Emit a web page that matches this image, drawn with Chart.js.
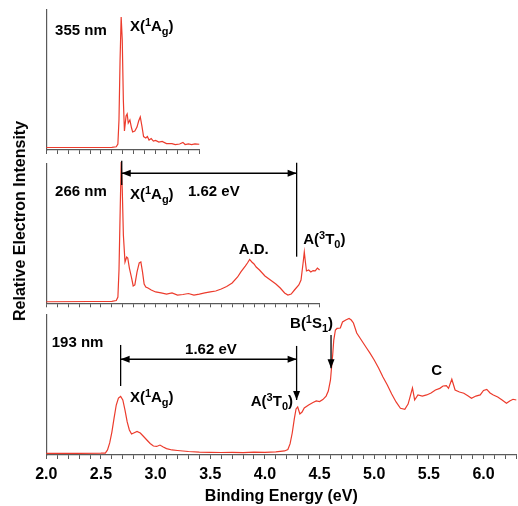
<!DOCTYPE html>
<html>
<head>
<meta charset="utf-8">
<script src="https://cdn.jsdelivr.net/npm/chart.js@4.4.1/dist/chart.umd.min.js"></script>
<style>
  body { margin: 0; background: #fff; }
  #wrap { position: relative; width: 518px; height: 506px; overflow: hidden; }
  canvas { position: absolute; left: 0; }
  #ylabel {
    position: absolute; left: 20px; top: 221px;
    transform: translate(-50%, -50%) rotate(-90deg);
    font: bold 16px "Liberation Sans", Arial, sans-serif;
    white-space: nowrap; color: #000;
  }
</style>
</head>
<body>
<div id="wrap">
  <canvas id="c355" width="518" height="158" style="top:0"></canvas>
  <canvas id="c266" width="518" height="152" style="top:158px"></canvas>
  <canvas id="c193" width="526" height="196" style="top:310px"></canvas>
  <div id="ylabel">Relative Electron Intensity</div>
</div>
<script>
// binding energy (eV) and relative intensity
const energy355 = [2.00, 2.20, 2.40, 2.60, 2.64, 2.655, 2.665, 2.675, 2.685, 2.695, 2.705, 2.715, 2.73, 2.74, 2.75,
  2.765, 2.78, 2.79, 2.81, 2.83, 2.845, 2.86, 2.875, 2.89, 2.91, 2.925, 2.94, 2.96, 2.98, 3.00, 3.03, 3.06,
  3.10, 3.15, 3.18, 3.22, 3.25, 3.27, 3.30, 3.33, 3.36, 3.40];
const signal355 = [1.8, 1.8, 1.8, 1.9, 2.3, 4.3, 21.4, 64.3, 95.0, 78.6, 35.7, 13.6, 24.3, 25.7, 19.3,
  21.4, 15.7, 12.9, 13.6, 16.4, 20.7, 23.6, 17.1, 9.6, 8.6, 9.6, 7.1, 8.2, 6.4, 6.8, 5.7, 6.1,
  4.6, 4.6, 3.9, 4.3, 5.4, 3.9, 4.3, 3.9, 4.4, 4.1];

const energy266 = [2.00, 2.40, 2.60, 2.64, 2.655, 2.665, 2.675, 2.685, 2.695, 2.705, 2.72, 2.735, 2.745, 2.76,
  2.78, 2.795, 2.81, 2.83, 2.85, 2.865, 2.88, 2.895, 2.91, 2.93, 2.96, 3.00, 3.05, 3.10, 3.15, 3.20, 3.25,
  3.30, 3.35, 3.40, 3.45, 3.50, 3.55, 3.60, 3.65, 3.70, 3.75, 3.78, 3.82, 3.84, 3.86, 3.88, 3.90, 3.92,
  3.95, 4.00, 4.05, 4.10, 4.14, 4.18, 4.21, 4.24, 4.27, 4.31, 4.33, 4.35, 4.36, 4.37, 4.38, 4.40, 4.42,
  4.44, 4.46, 4.48, 4.50];
const signal266 = [1.1, 1.3, 1.4, 2.0, 4.5, 23.8, 63.1, 101.0, 80.9, 48.8, 29.5, 33.1, 32.4, 25.2,
  18.1, 12.4, 13.1, 22.4, 28.8, 29.5, 22.4, 13.8, 11.6, 10.9, 9.5, 8.1, 7.4, 6.6, 7.4, 5.9, 6.3,
  7.0, 5.9, 6.6, 7.4, 8.1, 8.8, 10.2, 12.0, 14.5, 18.8, 22.4, 26.6, 28.8, 31.3, 29.5, 28.1, 25.9,
  23.8, 19.5, 16.6, 13.8, 10.9, 7.4, 5.9, 6.6, 9.5, 13.1, 16.6, 29.5, 36.6, 29.5, 23.1, 23.8, 22.4,
  23.4, 23.1, 25.2, 23.8];

const energy193 = [2.00, 2.30, 2.50, 2.54, 2.56, 2.58, 2.60, 2.62, 2.64, 2.66, 2.68, 2.70, 2.72, 2.74, 2.76,
  2.78, 2.80, 2.83, 2.86, 2.89, 2.92, 2.95, 2.98, 3.01, 3.04, 3.07, 3.10, 3.15, 3.20, 3.30, 3.40, 3.50,
  3.60, 3.70, 3.80, 3.90, 4.00, 4.10, 4.18, 4.21, 4.23, 4.25, 4.27, 4.285, 4.30, 4.32, 4.34, 4.36, 4.40,
  4.44, 4.47, 4.50, 4.53, 4.56, 4.58, 4.60, 4.61, 4.62, 4.63, 4.645, 4.66, 4.69, 4.71, 4.74, 4.77, 4.79,
  4.81, 4.84, 4.87, 4.90, 4.93, 4.96, 5.00, 5.04, 5.08, 5.12, 5.16, 5.20, 5.24, 5.28, 5.31, 5.33, 5.35,
  5.37, 5.40, 5.44, 5.48, 5.52, 5.56, 5.60, 5.63, 5.66, 5.68, 5.71, 5.74, 5.78, 5.82, 5.86, 5.89, 5.93,
  5.97, 6.00, 6.03, 6.06, 6.09, 6.13, 6.17, 6.21, 6.24, 6.27, 6.30];
const signal193 = [1.2, 1.2, 1.3, 1.4, 3.6, 8.6, 16.4, 26.4, 35.7, 40.7, 41.8, 39.3, 32.1, 23.6, 17.9,
  15.0, 15.7, 16.8, 15.7, 13.2, 10.7, 8.2, 6.4, 6.1, 7.1, 5.7, 4.6, 3.6, 3.2, 2.5, 2.1, 1.9,
  1.8, 1.9, 1.7, 2.0, 1.9, 2.3, 2.9, 3.9, 7.9, 15.7, 26.4, 32.9, 34.3, 29.3, 30.7, 33.6, 35.7,
  37.5, 38.6, 38.2, 39.6, 42.1, 45.7, 53.6, 62.9, 71.4, 82.1, 89.3, 90.4, 90.7, 95.0, 96.4, 97.5, 96.4,
  94.3, 87.1, 83.6, 80.0, 76.4, 72.9, 67.9, 62.1, 55.7, 50.0, 43.6, 37.9, 33.4, 32.6, 36.4, 42.1, 47.9,
  39.3, 42.9, 42.1, 42.9, 44.3, 46.4, 47.6, 49.3, 49.6, 47.6, 54.1, 46.4, 45.0, 44.1, 42.1, 40.5, 42.1,
  42.9, 46.1, 46.9, 44.3, 42.9, 41.4, 39.3, 36.9, 38.6, 39.8, 39.3];

const tickLabels = ['2.0', '2.5', '3.0', '3.5', '4.0', '4.5', '5.0', '5.5', '6.0'];

// labels and arrows, in data units
const notes355 = [
  { text: '355 nm', x: 2.08, y: 85 },
  { text: 'X(^1A_g)', x: 2.765, y: 87.9 },
];
const notes266 = [
  { text: '266 nm', x: 2.08, y: 79.7 },
  { text: 'X(^1A_g)', x: 2.765, y: 77.4 },
  { text: '1.62 eV', x: 3.296, y: 79.7 },
  { text: 'A.D.', x: 3.898, y: 38.1, align: 'center' },
  { text: 'A(^3T_0)', x: 4.35, y: 45.2 },
  { line: [2.69, 101.9, 2.69, 84.5] },
  { line: [2.69, 92.9, 4.29, 92.9], heads: 'both' },
  { line: [4.29, 100.4, 4.29, 33.3] },
];
const notes193 = [
  { text: '193 nm', x: 2.05, y: 79.8 },
  { text: '1.62 eV', x: 3.27, y: 75 },
  { text: 'X(^1A_g)', x: 2.765, y: 40.5 },
  { text: 'A(^3T_0)', x: 4.257, y: 38.1, align: 'right' },
  { text: 'B(^1S_1)', x: 4.23, y: 93.6 },
  { text: 'C', x: 5.572, y: 60, align: 'center' },
  { line: [2.68, 78.6, 2.68, 49.3] },
  { line: [2.68, 68.4, 4.29, 68.4], heads: 'both' },
  { line: [4.29, 77.9, 4.29, 39.3], heads: 'end' },
  { line: [4.605, 85.7, 4.605, 61.9], heads: 'end' },
];

const FONT = '"Liberation Sans", Arial, Helvetica, sans-serif';
const RED = '#ec3b2c';
const AXIS = '#5a5a5a';

function parseRich(str) {
  const parts = [];
  for (let i = 0; i < str.length; i++) {
    const c = str[i];
    if ((c === '^' || c === '_') && i + 1 < str.length) {
      parts.push({ t: str[i + 1], kind: c === '^' ? 'sup' : 'sub' });
      i++;
    } else {
      parts.push({ t: c, kind: 'n' });
    }
  }
  return parts;
}

function drawRich(ctx, str, x, y, align) {
  const parts = parseRich(str);
  const fontFor = (p) => 'bold ' + (p.kind === 'n' ? 15 : 11) + 'px ' + FONT;
  let total = 0;
  parts.forEach((p) => { ctx.font = fontFor(p); p.w = ctx.measureText(p.t).width; total += p.w; });
  let cx = x;
  if (align === 'center') cx = x - total / 2;
  if (align === 'right') cx = x - total;
  ctx.textBaseline = 'middle';
  ctx.textAlign = 'left';
  ctx.fillStyle = '#000';
  parts.forEach((p) => {
    ctx.font = fontFor(p);
    const dy = p.kind === 'sup' ? -4 : (p.kind === 'sub' ? 5 : 0);
    ctx.fillText(p.t, cx, y + dy);
    cx += p.w;
  });
}

function arrowHead(ctx, x, y, dx, dy) {
  const len = Math.hypot(dx, dy);
  const ux = dx / len, uy = dy / len;
  ctx.beginPath();
  ctx.moveTo(x, y);
  ctx.lineTo(x - ux * 9 - uy * 3.5, y - uy * 9 + ux * 3.5);
  ctx.lineTo(x - ux * 9 + uy * 3.5, y - uy * 9 - ux * 3.5);
  ctx.closePath();
  ctx.fill();
}

function notesPlugin(notes) {
  return {
    id: 'notes',
    afterDatasetsDraw(chart) {
      const { ctx, scales: { x, y } } = chart;
      ctx.save();
      notes.forEach((n) => {
        if (n.text) {
          drawRich(ctx, n.text, x.getPixelForValue(n.x), y.getPixelForValue(n.y), n.align || 'left');
          return;
        }
        const x1 = x.getPixelForValue(n.line[0]), y1 = y.getPixelForValue(n.line[1]);
        const x2 = x.getPixelForValue(n.line[2]), y2 = y.getPixelForValue(n.line[3]);
        ctx.strokeStyle = '#000';
        ctx.fillStyle = '#000';
        ctx.lineWidth = 1.3;
        ctx.beginPath();
        ctx.moveTo(x1, y1);
        ctx.lineTo(x2, y2);
        ctx.stroke();
        if (n.heads === 'both' || n.heads === 'end') arrowHead(ctx, x2, y2, x2 - x1, y2 - y1);
        if (n.heads === 'both') arrowHead(ctx, x1, y1, x1 - x2, y1 - y2);
      });
      ctx.restore();
    },
  };
}

function makePanel(id, energy, signal, xMax, notes, pad, showLabels) {
  const ctx = document.getElementById(id).getContext('2d');
  return new Chart(ctx, {
    type: 'line',
    data: {
      datasets: [{
        data: energy.map((e, i) => ({ x: e, y: signal[i] })),
        borderColor: RED,
        borderWidth: 1.2,
        pointRadius: 0,
        tension: 0,
        fill: false,
        clip: false,
      }],
    },
    options: {
      responsive: false,
      animation: false,
      devicePixelRatio: 1,
      layout: { padding: pad },
      plugins: { legend: { display: false }, tooltip: { enabled: false }, title: { display: false } },
      scales: {
        x: {
          type: 'linear',
          min: 2.0,
          max: xMax,
          border: { display: true, color: AXIS, width: 1.2 },
          grid: { drawOnChartArea: false, drawTicks: true, tickLength: 4, color: AXIS, lineWidth: 1 },
          ticks: {
            display: showLabels,
            stepSize: 0.1,
            autoSkip: false,
            maxRotation: 0,
            padding: 6,
            color: '#000',
            font: { family: FONT, weight: 'bold', size: 16 },
            callback: (v) => {
              const label = (Math.round(v * 10) / 10).toFixed(1);
              return tickLabels.includes(label) ? label : '';
            },
          },
          title: {
            display: showLabels,
            text: 'Binding Energy (eV)',
            color: '#000',
            padding: { top: 0, bottom: 0 },
            font: { family: FONT, weight: 'bold', size: 16 },
          },
          afterFit: (s) => { s.height = showLabels ? 51 : 6; },
        },
        y: {
          min: 0,
          max: 100,
          border: { display: true, color: AXIS, width: 1.2 },
          grid: { display: false },
          ticks: { display: false },
          afterFit: (s) => { s.width = 0; },
        },
      },
    },
    plugins: [notesPlugin(notes)],
  });
}

makePanel('c355', energy355, signal355, 3.4, notes355, { left: 46.3, right: 318.7, top: 10, bottom: 2 }, false);
makePanel('c266', energy266, signal266, 4.5, notes266, { left: 46.3, right: 198.4, top: 5.3, bottom: 0.7 }, false);
makePanel('c193', energy193, signal193, 6.3, notes193, { left: 46.3, right: 9.7, top: 5, bottom: 0 }, true);
</script>
</body>
</html>
